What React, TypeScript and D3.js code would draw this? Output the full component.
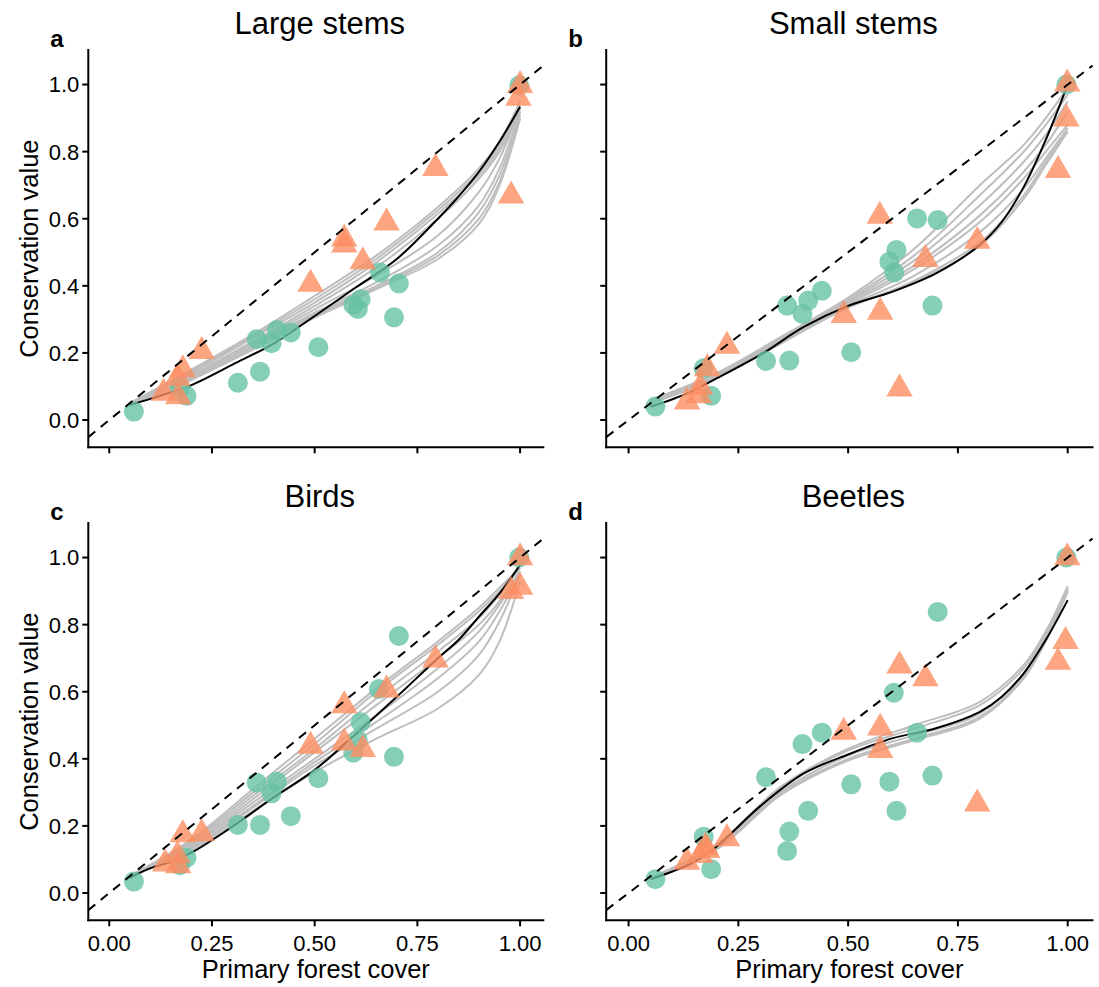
import React from "react";
import * as d3 from "d3";

// ---------- data ----------
const PANEL_TITLES = ["Large stems", "Small stems", "Birds", "Beetles"];
const PANEL_LETTERS = ["a", "b", "c", "d"];
const Y_TICKS = [0, 0.2, 0.4, 0.6, 0.8, 1.0];
const X_TICKS = [0, 0.25, 0.5, 0.75, 1.0];
const FIT_X = [0.05, 0.1, 0.15, 0.2, 0.3, 0.4, 0.5, 0.6, 0.7, 0.8, 0.85, 0.9, 0.95, 1.0];
const BOOT_X = [0.05, 0.2, 0.35, 0.5, 0.65, 0.8, 0.9, 0.95, 1.0];

const largeCircles: [number, number][] = [
  [0.06, 0.025], [0.172, 0.095], [0.188, 0.072], [0.313, 0.111], [0.367, 0.144], [0.359, 0.241],
  [0.395, 0.229], [0.408, 0.268], [0.442, 0.261], [0.509, 0.217], [0.612, 0.36], [0.594, 0.343],
  [0.605, 0.331], [0.659, 0.44], [0.705, 0.407], [0.693, 0.306], [0.998, 0.998],
];
const largeTriangles: [number, number][] = [
  [0.225, 0.205], [0.179, 0.15], [0.132, 0.08], [0.168, 0.07], [0.166, 0.125], [0.49, 0.405],
  [0.572, 0.54], [0.572, 0.522], [0.617, 0.472], [0.675, 0.588], [0.794, 0.75], [0.978, 0.668],
  [1.0, 0.998], [0.996, 0.96],
];
const largeFit = [0.045, 0.063, 0.083, 0.104, 0.165, 0.228, 0.31, 0.395, 0.48, 0.6, 0.666, 0.74, 0.83, 0.934];
const largeBoot = [
  [0.05, 0.15, 0.255, 0.37, 0.49, 0.635, 0.75, 0.83, 0.95],
  [0.05, 0.145, 0.25, 0.36, 0.48, 0.625, 0.74, 0.82, 0.94],
  [0.048, 0.14, 0.245, 0.35, 0.47, 0.615, 0.73, 0.81, 0.93],
  [0.047, 0.135, 0.235, 0.34, 0.455, 0.6, 0.72, 0.8, 0.92],
  [0.045, 0.13, 0.23, 0.33, 0.43, 0.55, 0.68, 0.78, 0.93],
  [0.045, 0.125, 0.225, 0.32, 0.41, 0.52, 0.64, 0.75, 0.92],
  [0.045, 0.125, 0.22, 0.315, 0.4, 0.5, 0.62, 0.73, 0.91],
  [0.045, 0.12, 0.215, 0.31, 0.395, 0.49, 0.6, 0.71, 0.9],
  [0.045, 0.12, 0.21, 0.305, 0.39, 0.48, 0.585, 0.7, 0.9],
];

const smallCircles: [number, number][] = [
  [0.061, 0.04], [0.171, 0.154], [0.188, 0.072], [0.313, 0.176], [0.366, 0.177], [0.361, 0.341],
  [0.396, 0.316], [0.409, 0.356], [0.44, 0.385], [0.507, 0.202], [0.594, 0.472], [0.61, 0.507],
  [0.605, 0.44], [0.657, 0.601], [0.704, 0.596], [0.692, 0.341], [0.997, 1.0],
];
const smallTriangles: [number, number][] = [
  [0.224, 0.22], [0.179, 0.153], [0.163, 0.098], [0.133, 0.054], [0.16, 0.073], [0.572, 0.608],
  [0.49, 0.312], [0.573, 0.322], [0.617, 0.093], [0.676, 0.479], [0.794, 0.533], [0.978, 0.744],
  [0.997, 0.898], [0.999, 1.002],
];
const smallFit = [0.04, 0.062, 0.089, 0.124, 0.194, 0.278, 0.34, 0.382, 0.437, 0.522, 0.591, 0.695, 0.835, 1.0];
const smallBoot = [
  [0.06, 0.14, 0.25, 0.365, 0.51, 0.7, 0.82, 0.9, 0.99],
  [0.055, 0.135, 0.245, 0.36, 0.49, 0.67, 0.8, 0.88, 0.97],
  [0.055, 0.135, 0.245, 0.355, 0.475, 0.64, 0.77, 0.85, 0.95],
  [0.05, 0.13, 0.24, 0.35, 0.46, 0.61, 0.74, 0.82, 0.92],
  [0.05, 0.13, 0.24, 0.345, 0.45, 0.59, 0.72, 0.8, 0.88],
  [0.05, 0.13, 0.235, 0.34, 0.43, 0.56, 0.69, 0.78, 0.87],
  [0.05, 0.125, 0.235, 0.335, 0.415, 0.53, 0.67, 0.77, 0.86],
  [0.05, 0.125, 0.23, 0.335, 0.41, 0.52, 0.66, 0.76, 0.86],
];

const birdCircles: [number, number][] = [
  [0.06, 0.034], [0.172, 0.083], [0.188, 0.105], [0.313, 0.203], [0.367, 0.203], [0.359, 0.329],
  [0.395, 0.297], [0.408, 0.332], [0.442, 0.229], [0.509, 0.342], [0.594, 0.418], [0.612, 0.509],
  [0.605, 0.456], [0.656, 0.608], [0.705, 0.766], [0.693, 0.406], [0.998, 1.0],
];
const birdTriangles: [number, number][] = [
  [0.225, 0.177], [0.179, 0.174], [0.136, 0.087], [0.168, 0.082], [0.166, 0.112], [0.49, 0.438],
  [0.572, 0.559], [0.572, 0.448], [0.617, 0.428], [0.675, 0.606], [0.794, 0.695], [0.978, 0.899],
  [1.0, 0.912], [1.0, 1.0],
];
const birdFit = [0.045, 0.074, 0.093, 0.12, 0.198, 0.285, 0.367, 0.474, 0.585, 0.7, 0.754, 0.824, 0.893, 0.978];
const birdBoot = [
  [0.05, 0.16, 0.31, 0.46, 0.61, 0.75, 0.85, 0.91, 0.97],
  [0.05, 0.155, 0.3, 0.445, 0.6, 0.74, 0.84, 0.9, 0.97],
  [0.05, 0.15, 0.29, 0.43, 0.58, 0.72, 0.82, 0.89, 0.97],
  [0.05, 0.145, 0.28, 0.42, 0.56, 0.7, 0.8, 0.87, 0.96],
  [0.05, 0.14, 0.27, 0.4, 0.53, 0.67, 0.78, 0.86, 0.96],
  [0.05, 0.135, 0.26, 0.39, 0.51, 0.64, 0.75, 0.84, 0.95],
  [0.05, 0.13, 0.255, 0.38, 0.49, 0.6, 0.71, 0.81, 0.95],
  [0.05, 0.125, 0.245, 0.36, 0.46, 0.55, 0.65, 0.75, 0.93],
];

const beetleCircles: [number, number][] = [
  [0.061, 0.041], [0.171, 0.168], [0.188, 0.071], [0.313, 0.345], [0.366, 0.183], [0.361, 0.125],
  [0.396, 0.444], [0.409, 0.245], [0.44, 0.478], [0.507, 0.324], [0.594, 0.332], [0.604, 0.597],
  [0.61, 0.245], [0.657, 0.478], [0.704, 0.838], [0.692, 0.35], [0.997, 1.0],
];
const beetleTriangles: [number, number][] = [
  [0.224, 0.162], [0.175, 0.137], [0.133, 0.092], [0.163, 0.112], [0.179, 0.127], [0.49, 0.48],
  [0.573, 0.492], [0.573, 0.425], [0.617, 0.677], [0.676, 0.639], [0.794, 0.266], [0.978, 0.688],
  [0.995, 0.75], [0.999, 1.0],
];
const beetleFit = [0.041, 0.064, 0.093, 0.138, 0.259, 0.357, 0.413, 0.461, 0.491, 0.54, 0.585, 0.655, 0.754, 0.873];
const beetleBoot = [
  [0.045, 0.145, 0.32, 0.43, 0.5, 0.57, 0.68, 0.78, 0.915],
  [0.045, 0.14, 0.315, 0.425, 0.49, 0.56, 0.67, 0.77, 0.91],
  [0.043, 0.135, 0.305, 0.41, 0.47, 0.535, 0.655, 0.76, 0.905],
  [0.043, 0.13, 0.3, 0.4, 0.46, 0.525, 0.645, 0.755, 0.9],
  [0.043, 0.13, 0.295, 0.395, 0.455, 0.52, 0.64, 0.75, 0.9],
];

// ---------- layout / style ----------
const W = 1099;
const H = 987;
const FONT = "'Liberation Sans', Arial, Helvetica, sans-serif";
const X_DOMAIN = [-0.051, 1.0565];
const Y_DOMAIN = [-0.0814, 1.103];
const LAYOUT = [
  { left: 88.3, right: 543.3, top: 50, bottom: 447.3, yLabels: true, xLabels: false },
  { left: 606.2, right: 1092.5, top: 50, bottom: 447.3, yLabels: false, xLabels: false },
  { left: 88.3, right: 543.3, top: 523, bottom: 920.3, yLabels: true, xLabels: true },
  { left: 606.2, right: 1092.5, top: 523, bottom: 920.3, yLabels: false, xLabels: true },
];
const CIRCLE_COLOR = "#66c2a5";
const TRIANGLE_COLOR = "#fc8d62";

const PANEL_DATA = [
  { circles: largeCircles, triangles: largeTriangles, fit: largeFit, boot: largeBoot },
  { circles: smallCircles, triangles: smallTriangles, fit: smallFit, boot: smallBoot },
  { circles: birdCircles, triangles: birdTriangles, fit: birdFit, boot: birdBoot },
  { circles: beetleCircles, triangles: beetleTriangles, fit: beetleFit, boot: beetleBoot },
];

function Panel({ idx }: { idx: number }) {
  const L = LAYOUT[idx];
  const D = PANEL_DATA[idx];
  const x = d3.scaleLinear().domain(X_DOMAIN).range([L.left, L.right]);
  const y = d3.scaleLinear().domain(Y_DOMAIN).range([L.bottom, L.top]);

  const bootLine = d3
    .line<number>()
    .x((_, i) => x(BOOT_X[i]))
    .y((d) => y(d))
    .curve(d3.curveCatmullRom.alpha(0.5));
  const fitLine = d3
    .line<number>()
    .x((_, i) => x(FIT_X[i]))
    .y((d) => y(d))
    .curve(d3.curveCatmullRom.alpha(0.5));
  const tri = d3.symbol().type(d3.symbolTriangle).size(305)() as string;
  const cx = (L.left + L.right) / 2;
  const cy = (L.top + L.bottom) / 2;

  return (
    <g>
      {D.boot.map((b, i) => (
        <path key={"b" + i} d={bootLine(b) as string} fill="none" stroke="#bebebe" strokeWidth={2} />
      ))}
      <path d={fitLine(D.fit) as string} fill="none" stroke="#000" strokeWidth={2} />
      {D.circles.map((p, i) => (
        <circle key={"c" + i} cx={x(p[0])} cy={y(p[1])} r={10} fill={CIRCLE_COLOR} fillOpacity={0.8} />
      ))}
      {D.triangles.map((p, i) => (
        <path
          key={"t" + i}
          d={tri}
          transform={`translate(${x(p[0])},${y(p[1])})`}
          fill={TRIANGLE_COLOR}
          fillOpacity={0.8}
        />
      ))}
      <line
        x1={x(X_DOMAIN[0])}
        y1={y(X_DOMAIN[0])}
        x2={x(X_DOMAIN[1])}
        y2={y(X_DOMAIN[1])}
        stroke="#000"
        strokeWidth={2}
        strokeDasharray="9,7"
      />
      <line x1={L.left} y1={L.top} x2={L.left} y2={L.bottom} stroke="#000" strokeWidth={2} strokeLinecap="square" />
      <line x1={L.left} y1={L.bottom} x2={L.right} y2={L.bottom} stroke="#000" strokeWidth={2} strokeLinecap="square" />
      {Y_TICKS.map((t) => (
        <g key={"yt" + t}>
          <line x1={L.left - 6} x2={L.left} y1={y(t)} y2={y(t)} stroke="#000" strokeWidth={2} />
          {L.yLabels && (
            <text x={L.left - 9} y={y(t)} dy="0.36em" textAnchor="end" fontSize={22} fontFamily={FONT} fill="#000">
              {t.toFixed(1)}
            </text>
          )}
        </g>
      ))}
      {X_TICKS.map((t) => (
        <g key={"xt" + t}>
          <line x1={x(t)} x2={x(t)} y1={L.bottom} y2={L.bottom + 6} stroke="#000" strokeWidth={2} />
          {L.xLabels && (
            <text x={x(t)} y={L.bottom + 31} textAnchor="middle" fontSize={22} fontFamily={FONT} fill="#000">
              {t.toFixed(2)}
            </text>
          )}
        </g>
      ))}
      <text x={cx + 4} y={L.top - 16} textAnchor="middle" fontSize={31} fontFamily={FONT} fill="#000">
        {PANEL_TITLES[idx]}
      </text>
      <text x={L.left - 38} y={L.top - 3} fontSize={24} fontWeight="bold" fontFamily={FONT} fill="#000">
        {PANEL_LETTERS[idx]}
      </text>
      {L.yLabels && (
        <text
          transform={`translate(${L.left - 50},${cy}) rotate(-90)`}
          textAnchor="middle"
          fontSize={25.5}
          fontFamily={FONT}
          fill="#000"
        >
          Conservation value
        </text>
      )}
      {L.xLabels && (
        <text x={cx} y={L.bottom + 58} textAnchor="middle" fontSize={25.5} fontFamily={FONT} fill="#000">
          Primary forest cover
        </text>
      )}
    </g>
  );
}

export default function App() {
  return (
    <svg
      width={W}
      height={H}
      viewBox={`0 0 ${W} ${H}`}
      style={{ position: "absolute", left: 0, top: 0, background: "#fff", display: "block" }}
    >
      <rect x={0} y={0} width={W} height={H} fill="#fff" />
      {[0, 1, 2, 3].map((i) => (
        <Panel key={i} idx={i} />
      ))}
    </svg>
  );
}
